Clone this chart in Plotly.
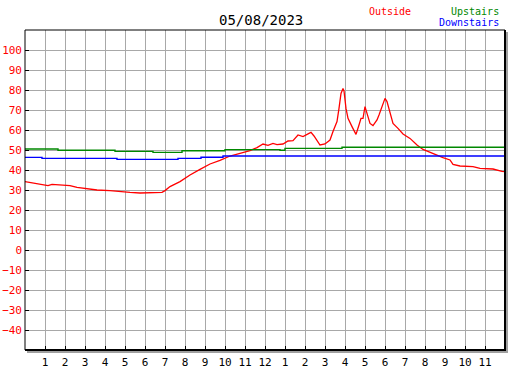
import plotly.graph_objects as go

# ---- data ----
out_hours = [0.00, 0.40, 0.90, 1.15, 1.35, 1.75, 2.25, 2.60, 3.10, 3.60, 4.25, 4.60, 5.25, 5.75,
             6.25, 6.85, 7.00, 7.25, 7.75, 8.25, 8.75, 9.25, 9.75, 10.25, 10.75, 11.25, 11.60,
             11.90, 12.15, 12.40, 12.60, 12.90, 13.15, 13.40, 13.65, 13.90, 14.20, 14.30, 14.45,
             14.75, 15.00, 15.25, 15.40, 15.60, 15.70, 15.80, 15.90, 15.95, 16.05, 16.15, 16.35,
             16.55, 16.70, 16.80, 16.90, 17.00, 17.10, 17.25, 17.40, 17.60, 17.70, 17.85, 18.00,
             18.10, 18.25, 18.40, 18.65, 18.90, 19.25, 19.60, 19.90, 20.25, 20.60, 20.90, 21.25,
             21.40, 21.75, 22.40, 22.75, 23.40, 23.85, 24.00]
out_temps = [34.2, 33.5, 32.8, 32.2, 32.8, 32.5, 32.2, 31.3, 30.5, 30.0, 29.7, 29.3, 28.8, 28.5,
             28.5, 28.8, 29.7, 31.7, 34.2, 37.5, 40.3, 43.0, 44.8, 47.0, 48.3, 49.7, 51.2,
             53.0, 52.3, 53.3, 52.7, 53.0, 54.5, 54.7, 57.5, 56.7, 58.3, 58.8, 57.0,
             52.5, 53.0, 55.0, 59.2, 64.2, 70.8, 78.3, 80.8, 79.5, 70.8, 65.8, 61.7,
             57.8, 62.5, 65.8, 65.8, 71.7, 68.3, 63.3, 62.2, 65.0, 67.5, 71.7, 75.8,
             74.2, 68.3, 63.3, 60.8, 58.0, 55.8, 52.5, 50.3, 48.8, 47.5, 46.2, 45.0,
             42.8, 42.0, 41.7, 40.8, 40.5, 39.3, 39.2]

up_hours = [0.00, 1.65, 4.50, 6.40, 7.85, 10.00, 12.75, 13.00, 15.85, 24.00]
up_temps = [50.5, 49.9, 49.3, 48.8, 49.6, 50.2, 49.9, 50.8, 51.4, 51.4]

down_hours = [0.00, 0.85, 4.60, 7.65, 8.80, 9.90, 24.00]
down_temps = [46.3, 45.8, 45.3, 45.8, 46.4, 47.0, 47.0]

x_tickvals = list(range(1, 24))
x_ticktext = [str(h if h <= 12 else h - 12) for h in x_tickvals]
y_tickvals = list(range(-40, 101, 10))

title_text = "05/08/2023"

# ---- figure ----
FONT = "DejaVu Sans Mono"
fig = go.Figure()
fig.add_trace(go.Scatter(x=out_hours, y=out_temps, mode="lines",
                         line=dict(color="#ff0000", width=1.3), name="Outside"))
fig.add_trace(go.Scatter(x=up_hours, y=up_temps, mode="lines",
                         line=dict(color="#008800", width=1.4, shape="hv"), name="Upstairs"))
fig.add_trace(go.Scatter(x=down_hours, y=down_temps, mode="lines",
                         line=dict(color="#0000ff", width=1.4, shape="hv"), name="Downstairs"))

L, R, T, B = 25, 505, 30, 350
W, H = 527, 370
pw, ph = R - L, B - T

def px(x):
    return (x - L) / pw

def py(y):
    return (B - y) / ph

fig.update_layout(
    width=W, height=H,
    margin=dict(l=L, r=W - R, t=T, b=H - B, pad=0, autoexpand=False),
    paper_bgcolor="white", plot_bgcolor="white",
    showlegend=False,
    hovermode=False,
    font=dict(family=FONT, size=10, color="black"),
)
fig.update_xaxes(range=[0, 24], tickvals=x_tickvals, ticktext=x_ticktext,
                 showgrid=True, gridcolor="#a8a8a8", gridwidth=1,
                 ticks="inside", ticklen=4, tickcolor="black", tickwidth=1,
                 tickfont=dict(family=FONT, size=11, color="black"),
                 ticklabelstandoff=4,
                 showline=False, zeroline=False, fixedrange=True, automargin=False)
fig.update_yaxes(range=[-50, 110], tickvals=y_tickvals,
                 showgrid=True, gridcolor="#a8a8a8", gridwidth=1,
                 ticks="inside", ticklen=4, tickcolor="black", tickwidth=1,
                 tickfont=dict(family=FONT, size=11, color="#ff0000"),
                 ticklabelstandoff=2,
                 showline=False, zeroline=False, fixedrange=True, automargin=False)

# frame: thin top/left, thick right/bottom with grey shadow
shapes = [
    dict(type="line", xref="paper", yref="paper", x0=0, x1=1, y0=1, y1=1,
         line=dict(color="black", width=1)),
    dict(type="line", xref="paper", yref="paper", x0=0, x1=0, y0=0, y1=1,
         line=dict(color="black", width=1)),
    dict(type="line", xref="paper", yref="paper", x0=1, x1=1, y0=py(B + 1), y1=1,
         line=dict(color="black", width=2)),
    dict(type="line", xref="paper", yref="paper", x0=0, x1=px(R + 1), y0=0, y1=0,
         line=dict(color="black", width=2)),
    dict(type="line", xref="paper", yref="paper", x0=px(R + 2), x1=px(R + 2),
         y0=py(B + 2.5), y1=py(T + 2), line=dict(color="#a0a0a0", width=2)),
    dict(type="line", xref="paper", yref="paper", x0=px(L + 2), x1=px(R + 3),
         y0=py(B + 2), y1=py(B + 2), line=dict(color="#a0a0a0", width=2)),
]
fig.update_layout(shapes=shapes)

annos = [
    dict(text=title_text, x=px(261), y=py(20), xanchor="center", yanchor="middle",
         font=dict(family=FONT, size=14, color="black")),
    dict(text="Outside", x=px(390), y=py(11), xanchor="center", yanchor="middle",
         font=dict(family=FONT, size=10, color="#ff0000")),
    dict(text="Upstairs", x=px(501), y=py(11), xanchor="right", yanchor="middle",
         font=dict(family=FONT, size=10, color="#008800")),
    dict(text="Downstairs", x=px(501), y=py(23), xanchor="right", yanchor="middle",
         font=dict(family=FONT, size=10, color="#0000ff")),
]
for a in annos:
    fig.add_annotation(xref="paper", yref="paper", showarrow=False, **a)

fig.write_html("out.html", config={"displayModeBar": False},
               post_script="document.body.style.margin='0';document.body.style.overflow='hidden';")
